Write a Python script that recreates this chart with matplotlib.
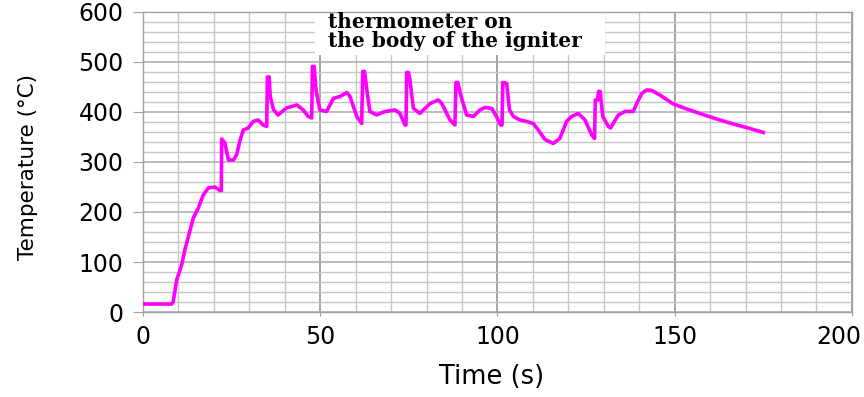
import matplotlib
matplotlib.use("Agg")
import matplotlib.pyplot as plt
from matplotlib.patches import Rectangle
from matplotlib.ticker import MultipleLocator
from matplotlib.transforms import ScaledTranslation

time_s = [0, 8.1, 8.5, 9.5, 10.9, 11.8, 13.3, 14.2, 15.6, 17.0, 18.4, 20.3, 21.7, 22.1,
          22.2, 23.1, 24.1, 25.5, 26.4, 27.4, 28.3, 29.7, 31.1, 32.5, 33.9, 34.9,
          35.1, 35.6, 35.9, 36.8, 38.1, 40.5, 43.4, 45.2, 46.6, 47.6,
          47.8, 48.3, 48.8, 49.9, 51.8, 53.7, 55.6, 57.5, 58.4, 60.3, 61.7,
          62.0, 62.5, 63.1, 64.0, 65.9, 68.3, 71.1, 72.5, 73.9, 74.2,
          74.4, 74.9, 75.3, 76.3, 78.1, 81.0, 83.3, 84.3, 86.6, 88.0,
          88.3, 88.8, 89.9, 91.3, 93.2, 95.1, 96.5, 98.4, 99.7, 100.9, 101.3,
          101.5, 102.6, 103.4, 104.5, 106.3, 108.2, 110.1, 111.5, 113.4, 115.7,
          117.6, 119.5, 120.9, 122.8, 124.7, 126.6, 127.4,
          127.6, 128.3, 128.5, 129.0, 129.7, 131.3, 131.9, 134.1, 136.0, 138.3,
          139.3, 140.7, 142.1, 143.5, 145.8, 149.6, 153.4, 157.1, 161.8, 166.5,
          171.2, 175.0]
temperature_c = [16, 16, 20, 64, 94, 124, 164, 188, 208, 234, 248, 250, 243, 243,
                 346, 338, 304, 304, 314, 344, 364, 368, 381, 384, 374, 371,
                 470, 470, 431, 405, 394, 408, 414, 404, 391, 388,
                 491, 491, 444, 404, 401, 427, 431, 439, 431, 391, 377,
                 481, 481, 447, 401, 394, 401, 404, 397, 374, 374,
                 479, 479, 464, 407, 397, 417, 424, 417, 384, 374,
                 459, 459, 427, 394, 391, 404, 409, 407, 391, 374, 374,
                 459, 457, 404, 391, 384, 381, 377, 364, 345, 337,
                 347, 381, 391, 397, 384, 354, 347,
                 424, 424, 441, 441, 391, 371, 368, 394, 401, 401,
                 417, 437, 444, 443, 434, 416, 406, 397, 386, 376,
                 367, 359]

x_ticks = [0, 50, 100, 150, 200]
y_ticks = [0, 100, 200, 300, 400, 500, 600]
annotation = "thermometer on\nthe body of the igniter"

plt.rcParams["font.family"] = ["DejaVu Sans"]

fig = plt.figure(figsize=(8.64, 3.97), dpi=100)
ax = fig.add_axes([0.1655, 0.214, 0.8205, 0.756])

ax.set_xlim(0, 200)
ax.set_ylim(0, 600)
ax.set_xticks(x_ticks)
ax.set_yticks(y_ticks)
ax.xaxis.set_minor_locator(MultipleLocator(10))
ax.yaxis.set_minor_locator(MultipleLocator(20))

ax.grid(which="minor", color="#c6c6c6", linewidth=1.0)
ax.grid(which="major", axis="x", color="#8c8c8c", linewidth=1.1)
ax.grid(which="major", axis="y", color="#ababab", linewidth=1.1)
ax.set_axisbelow(True)

for s in ax.spines.values():
    s.set_color("#a0a0a0")
    s.set_linewidth(1.0)

ax.tick_params(which="major", color="#a0a0a0", labelsize=17)
ax.tick_params(axis="y", which="major", length=7, pad=7)
ax.tick_params(axis="x", which="major", length=3, pad=6)
ax.tick_params(which="minor", length=0)

# last x label sits just inside the figure edge as in the reference
last = ax.get_xticklabels()[-1]
last.set_transform(last.get_transform() + ScaledTranslation(-0.13, 0, fig.dpi_scale_trans))

ax.plot(time_s, temperature_c, color="#ff00ff", linewidth=2.6, zorder=3)

ax.add_patch(Rectangle((48.5, 514), 81.8, 85.5, facecolor="white", edgecolor="none",
                       zorder=2.5))
ax.text(52.2, 561, annotation, fontsize=14.5, fontweight="bold",
        family="DejaVu Serif", va="center", ha="left", linespacing=0.92, zorder=4)

ax.set_xlabel("Time (s)", fontsize=18.5)
ax.set_ylabel("Temperature (\u00b0C)", fontsize=15.5)
ax.xaxis.set_label_coords(0.491, -0.172)
ax.yaxis.set_label_coords(-0.148, 0.483)

fig.savefig("out.png", dpi=100, facecolor="white")
